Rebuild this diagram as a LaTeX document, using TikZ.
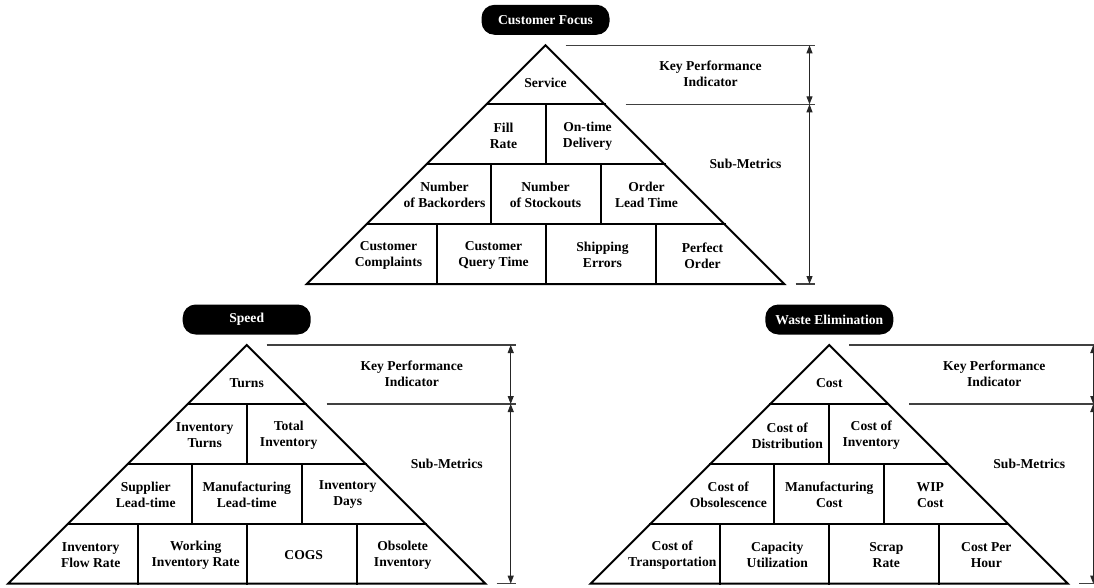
\documentclass[tikz,border=0pt]{standalone}
\usepackage{fontspec}
\setmainfont{Liberation Serif}
\usetikzlibrary{arrows.meta}

% Framework of one pyramid with its dimension bars; apex at the local origin.
% #1 = name prefix for the dimension coordinates
\newcommand{\pyrframe}[1]{%
  \draw[pyrline] (0,0) -- (-238.7,238.7) -- (238.7,238.7) -- cycle;
  \draw[pyrline] (-59,59) -- (59,59);
  \draw[pyrline] (-119,119) -- (119,119);
  \draw[pyrline] (-179,179) -- (179,179);
  \draw[pyrline] (0,59) -- (0,119);
  \draw[pyrline] (-55,119) -- (-55,179);
  \draw[pyrline] (55,119) -- (55,179);
  \draw[pyrline] (-109,179) -- (-109,238.7);
  \draw[pyrline] (0,179) -- (0,238.7);
  \draw[pyrline] (110,179) -- (110,238.7);
  % reference lines on the right
  \coordinate (#1TopL) at (20,0);    \coordinate (#1TopR) at (269,0);
  \coordinate (#1MidL) at (80,59);   \coordinate (#1MidR) at (269,59);
  \coordinate (#1BotL) at (250,238.7); \coordinate (#1BotR) at (269,238.7);
  \draw[refline] (#1TopL) -- (#1TopR);
  \draw[refline] (#1MidL) -- (#1MidR);
  \draw[refline] (#1BotL) -- (#1BotR);
  \coordinate (#1A) at (264,0);
  \coordinate (#1B) at (264,59);
  \coordinate (#1C) at (264,238.7);
  \draw[dimarrow] (#1A) -- (#1B);
  \draw[dimarrow] (#1B) -- (#1C);
  \node[lbl] (#1Kpi) at (165,28.5) {Key Performance\\Indicator};
  \node[lbl] (#1Sub) at (200,119) {Sub-Metrics};
}

\begin{document}
\begin{tikzpicture}[x=1pt,y=-1pt,
  pyrline/.style={line width=2pt,line join=miter,line cap=rect},
  refline/.style={line width=1.1pt,black!75},
  dimarrow/.style={line width=1pt,black!85,
    {Triangle[length=8pt,width=6pt]}-{Triangle[length=8pt,width=6pt]}},
  lbl/.style={font=\bfseries\fontsize{13.6}{16}\selectfont,align=center,inner sep=0pt},
  pill/.style={lbl,fill=black,text=white,rounded corners=13pt,
    minimum width=128pt,minimum height=30pt}]
\useasboundingbox (0,0) rectangle (1094,588);

% ---- Customer Focus ----
\begin{scope}[shift={(545.5,45.3)}]
  \pyrframe{cf}
  \node[pill] (cfHead) at (0,-25.5) {Customer Focus};
  \node[lbl] (cfKpiCell) at (0,38) {Service};
  \node[lbl] (cfFill) at (-42,90.5) {Fill\\Rate};
  \node[lbl] (cfOnTime) at (42,90.5) {On-time\\Delivery};
  \node[lbl] (cfBack) at (-101,150) {Number\\of Backorders};
  \node[lbl] (cfStock) at (0,150) {Number\\of Stockouts};
  \node[lbl] (cfLead) at (101,150) {Order\\Lead Time};
  \node[lbl] (cfCompl) at (-157,210) {Customer\\Complaints};
  \node[lbl] (cfQuery) at (-52,210) {Customer\\Query Time};
  \node[lbl] (cfShip) at (57,210) {Shipping\\Errors};
  \node[lbl] (cfPerf) at (157,210) {Perfect\\Order};
\end{scope}

% ---- Speed ----
\begin{scope}[shift={(246.7,345)}]
  \pyrframe{sp}
  \node[pill] (spHead) at (0,-25.5) {Speed};
  \node[lbl] (spKpiCell) at (0,38) {Turns};
  \node[lbl] (spInvT) at (-42,90.5) {Inventory\\Turns};
  \node[lbl] (spTotal) at (42,90.5) {Total\\Inventory};
  \node[lbl] (spSupp) at (-101,150) {Supplier\\Lead-time};
  \node[lbl] (spManu) at (0,150) {Manufacturing\\Lead-time};
  \node[lbl] (spDays) at (101,150) {Inventory\\Days};
  \node[lbl] (spFlow) at (-156,210) {Inventory\\Flow Rate};
  \node[lbl] (spWork) at (-51,210) {Working\\Inventory Rate};
  \node[lbl] (spCogs) at (57,210) {COGS};
  \node[lbl] (spObs) at (156,210) {Obsolete\\Inventory};
\end{scope}

% ---- Waste Elimination ----
\begin{scope}[shift={(829.3,345)}]
  \pyrframe{we}
  \node[pill] (weHead) at (0,-25.5) {Waste Elimination};
  \node[lbl] (weKpiCell) at (0,38) {Cost};
  \node[lbl] (weDist) at (-42,90.5) {Cost of\\Distribution};
  \node[lbl] (weInv) at (42,90.5) {Cost of\\Inventory};
  \node[lbl] (weObs) at (-101,150) {Cost of\\Obsolescence};
  \node[lbl] (weManu) at (0,150) {Manufacturing\\Cost};
  \node[lbl] (weWip) at (101,150) {WIP\\Cost};
  \node[lbl] (weTrans) at (-157,210) {Cost of\\Transportation};
  \node[lbl] (weCap) at (-52,210) {Capacity\\Utilization};
  \node[lbl] (weScrap) at (57,210) {Scrap\\Rate};
  \node[lbl] (weHour) at (157,210) {Cost Per\\Hour};
\end{scope}
\end{tikzpicture}
\end{document}
